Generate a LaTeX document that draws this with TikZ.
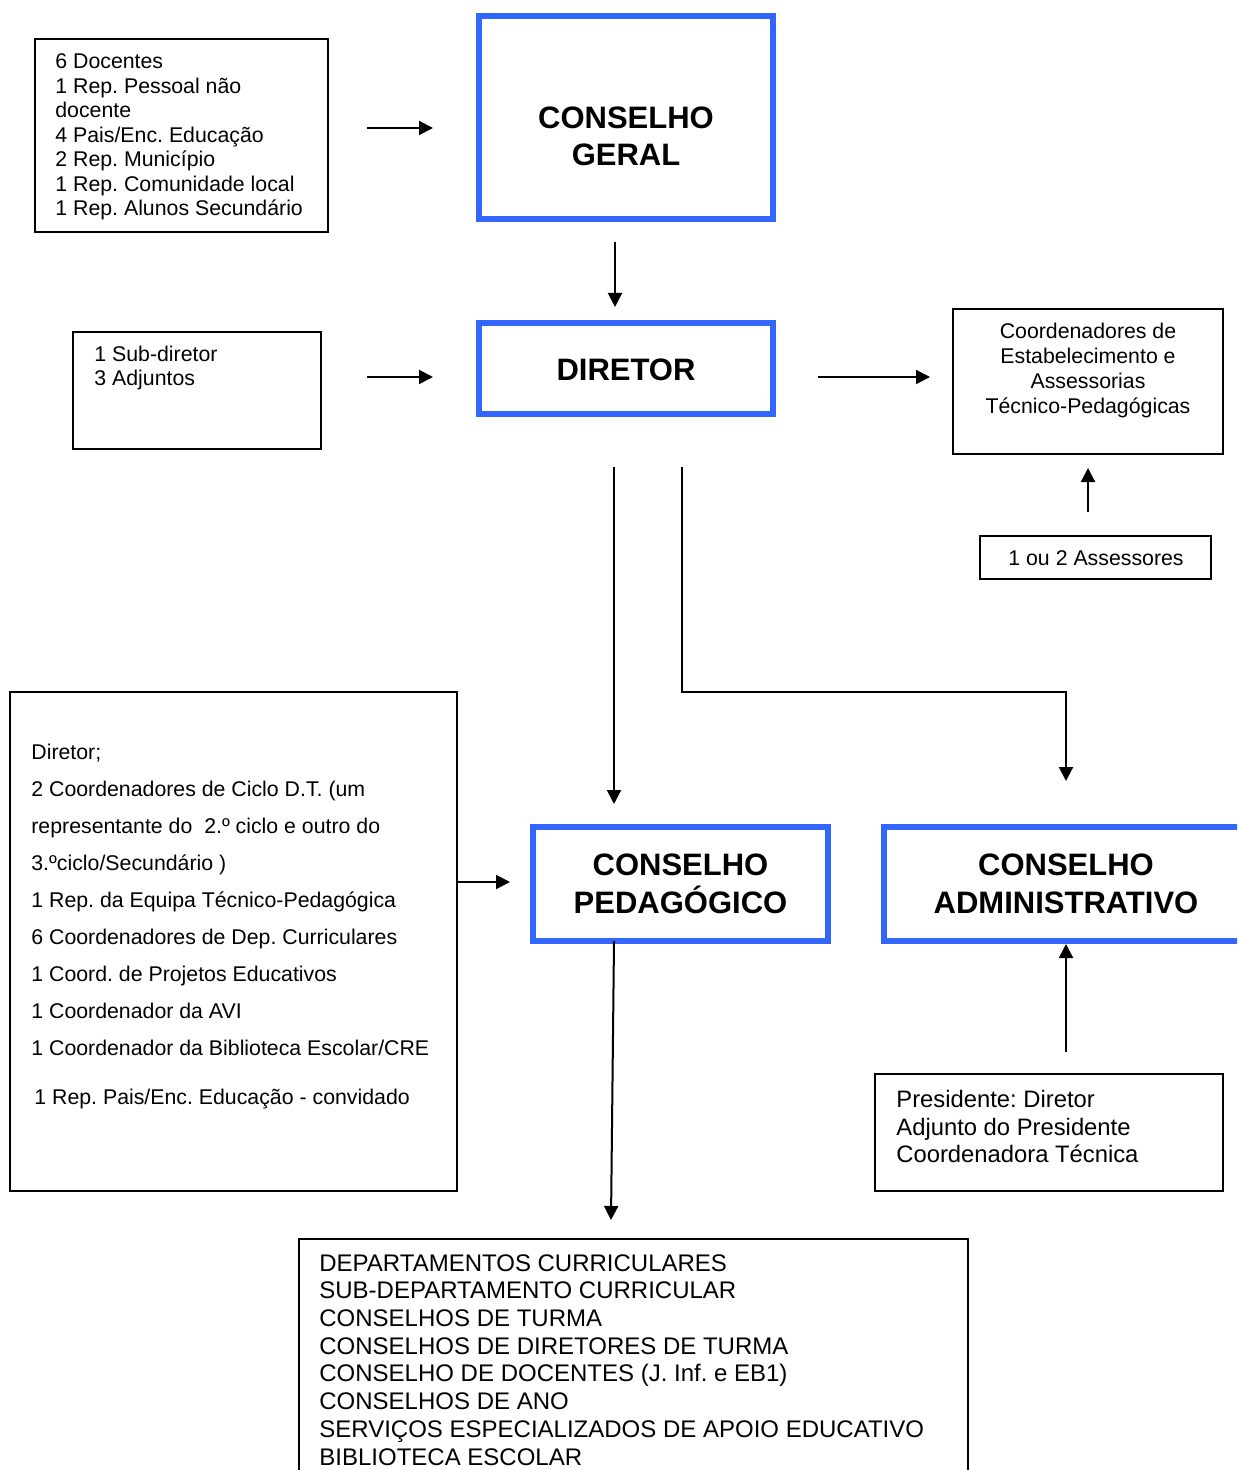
\documentclass[tikz,border=0pt]{standalone}
\usepackage{fontspec}
\setmainfont{Liberation Sans}
\usetikzlibrary{arrows.meta,calc}
\definecolor{cblue}{RGB}{51,102,255}
\frenchspacing
\begin{document}
\begin{tikzpicture}[x=0.5pt,y=-0.5pt,
  thinbox/.style={draw=black,line width=1pt,inner sep=0pt,outer sep=0pt},
  bluebox/.style={draw=cblue,line width=2.8pt,inner sep=0pt,outer sep=0pt},
  arr/.style={line width=1pt,-{Triangle[length=7pt,width=7pt]}},
  small/.style={font=\fontsize{10.65pt}{12.25pt}\selectfont,inner sep=0pt,align=left,anchor=north west},
  title/.style={font=\fontsize{15.5pt}{18.75pt}\selectfont\bfseries,align=center,inner sep=0pt}]
\useasboundingbox (0,0) rectangle (1237,1470);
\clip (0,0) rectangle (1237,1470);

% boxes
\node[thinbox,minimum width=146.5pt,minimum height=96.5pt] (tl) at (181.5,135.5) {};
\node[bluebox,minimum width=147pt,minimum height=101.5pt] (cg) at (626,117.5) {};
\node[thinbox,minimum width=124pt,minimum height=58.5pt] (sub) at (197,390.5) {};
\node[bluebox,minimum width=147pt,minimum height=45.5pt] (dir) at (626,368.5) {};
\node[thinbox,minimum width=135pt,minimum height=72.5pt] (coord) at (1088,381.5) {};
\node[thinbox,minimum width=115.5pt,minimum height=21.5pt] (ass) at (1095.5,557.5) {};
\node[thinbox,minimum width=223.5pt,minimum height=249.5pt] (cp) at (233.5,941.5) {};
\node[bluebox,minimum width=147.5pt,minimum height=57pt] (ped) at (680.5,884) {};
\node[bluebox,minimum width=183pt,minimum height=57pt] (adm) at (1067,884) {};
\node[thinbox,minimum width=174pt,minimum height=58.5pt] (pres) at (1049,1132.5) {};
\node[thinbox,minimum width=334.5pt,minimum height=125.5pt] (bot) at (633.5,1364.5) {};

% texts
\node[small] (tlt) at (55,53.5) {6 Docentes\\1 Rep. Pessoal não\\docente\\4 Pais/Enc. Educação\\2 Rep. Município\\1 Rep. Comunidade local\\1 Rep. Alunos Secundário};
\node[title] (cgt) at (626,136.5) {CONSELHO\\GERAL};
\node[small,font=\fontsize{10.65pt}{12pt}\selectfont] (subt) at (94,346) {1 Sub-diretor\\3 Adjuntos};
\node[title] (dirt) at (626,370) {DIRETOR};
\node[small,align=center,anchor=north,font=\fontsize{10.65pt}{12.5pt}\selectfont] (coordt) at (1088,323) {Coordenadores de\\Estabelecimento e\\Assessorias\\Técnico-Pedagógicas};
\node[small,anchor=center] (asst) at (1096,558) {1 ou 2 Assessores};
\node[small,font=\fontsize{10.65pt}{18.5pt}\selectfont] (cpt) at (31,744) {Diretor;\\2 Coordenadores de Ciclo D.T. (um\\representante do\ \ 2.º ciclo e outro do\\3.ºciclo/Secundário )\\1 Rep. da Equipa Técnico-Pedagógica\\6 Coordenadores de Dep. Curriculares\\1 Coord. de Projetos Educativos\\1 Coordenador da AVI\\1 Coordenador da Biblioteca Escolar/CRE\\[6pt]\hspace*{1.5pt}1 Rep. Pais/Enc. Educação - convidado};
\node[title] (pedt) at (680.5,884) {CONSELHO\\PEDAGÓGICO};
\node[title] (admt) at (1066,884) {CONSELHO\\ADMINISTRATIVO};
\node[small,font=\fontsize{11.9pt}{13.75pt}\selectfont] (prest) at (896,1090) {Presidente: Diretor\\Adjunto do Presidente\\Coordenadora Técnica};
\node[small,font=\fontsize{12pt}{13.85pt}\selectfont] (bott) at (319,1254) {DEPARTAMENTOS CURRICULARES\\SUB-DEPARTAMENTO CURRICULAR\\CONSELHOS DE TURMA\\CONSELHOS DE DIRETORES DE TURMA\\CONSELHO DE DOCENTES (J. Inf. e EB1)\\CONSELHOS DE ANO\\SERVIÇOS ESPECIALIZADOS DE APOIO EDUCATIVO\\BIBLIOTECA ESCOLAR};

% connectors
\draw[arr] ([shift={(39,-7.5)}]tl.east) -- ([shift={(-46,10.5)}]cg.west);
\draw[arr] ([shift={(-11,23)}]cg.south) -- ([shift={(-11,-16)}]dir.north);
\draw[arr] ([shift={(46,-13.5)}]sub.east) -- ([shift={(-46,8.5)}]dir.west);
\draw[arr] ([shift={(45,8.5)}]dir.east) -- ([shift={(-23,-4.5)}]coord.west);
\draw[arr] ([shift={(-7.5,-24)}]ass.north) -- ([shift={(0,14)}]coord.south);
\draw[arr] ([shift={(-12,53)}]dir.south) -- ([shift={(-66.5,-23)}]ped.north);
\draw[arr] ([shift={(56,53)}]dir.south) |- ([shift={(-1,-135)}]adm.north) -- ([shift={(-1,-46)}]adm.north);
\draw[arr] ([shift={(0,-59.5)}]cp.east) -- ([shift={(-23,-2)}]ped.west);
\draw[arr] ([shift={(17,-22)}]pres.north) -- ([shift={(-1,3)}]adm.south);
\draw[arr] ([shift={(-66.5,0)}]ped.south) -- ([shift={(-22.5,-19)}]bot.north);
\end{tikzpicture}
\end{document}
